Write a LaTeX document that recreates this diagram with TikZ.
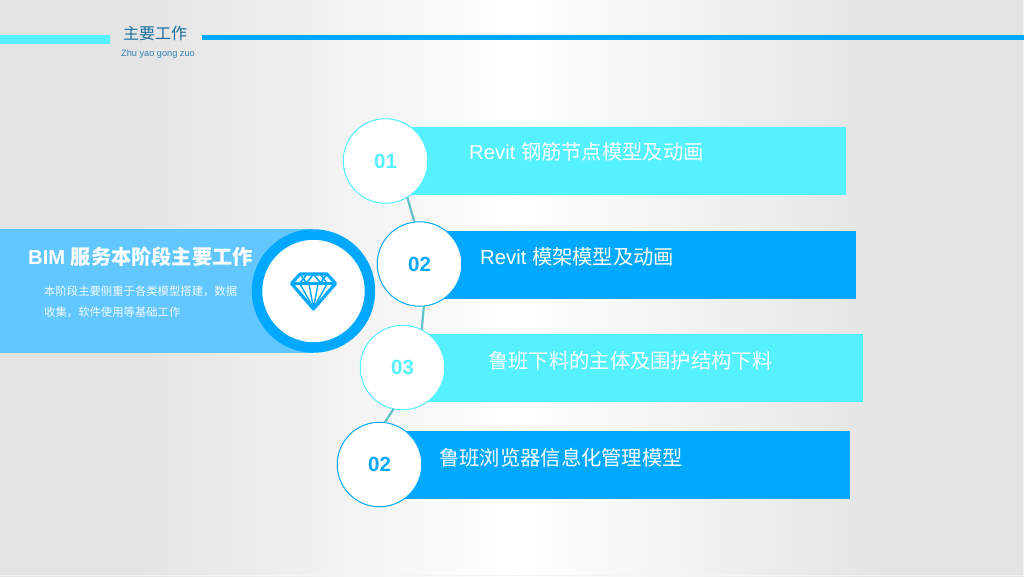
\documentclass[tikz,border=0pt]{standalone}
\usepackage{fontspec}
\setmainfont{Liberation Sans}
\newfontfamily\cjk{Noto Sans CJK SC}
\definecolor{cyanbar}{HTML}{55F1FF}
\definecolor{bluebar}{HTML}{00A8FF}
\definecolor{panel}{HTML}{62C7FF}
\definecolor{titlec}{HTML}{1A6E9E}
\definecolor{subc}{HTML}{2F7FAE}
\definecolor{linkc}{HTML}{62C2CC}
\definecolor{bgedge}{HTML}{E4E4E4}
\pgfdeclarehorizontalshading{slidebg}{100bp}{color(0bp)=(bgedge); color(31.6bp)=(bgedge); color(50.2bp)=(white); color(68.2bp)=(bgedge); color(100bp)=(bgedge)}
\tikzset{
  numc/.style={circle,fill=white,draw=#1,line width=1pt,minimum size=84.5pt,inner sep=0pt,outer sep=0pt,text=#1,font=\bfseries\fontsize{20.5}{20.5}\selectfont},
  bartext/.style={anchor=west,text=white,inner sep=0pt,font=\fontsize{20.3}{20.3}\selectfont},
  desc/.style={anchor=west,text=white!92!panel,inner sep=0pt,font=\cjk\fontsize{11.35}{11.35}\selectfont},
  link/.style={draw=linkc,line width=2.2pt},
  gem/.style={draw=bluebar,line join=round}
}
\begin{document}
\begin{tikzpicture}[x=1pt,y=-1pt]
\useasboundingbox (0,0) rectangle (1024,576);
\shade[shading=slidebg] (0,0) rectangle (1024,576);
\fill[white!60!bgedge] (0,575) rectangle (1024,576);
\fill[white!60!bgedge] (1023,0) rectangle (1024,576);
% header
\fill[cyanbar] (0,35) rectangle (110,44);
\fill[bluebar] (202,35) rectangle (1024,40);
\node[text=titlec,inner sep=0pt,font=\cjk\fontsize{16}{16}\selectfont] (title) at (155,33) {主要工作};
\node[text=subc,inner sep=0pt,font=\fontsize{9.2}{9}\selectfont] (subtitle) at (158,54) {Zhu yao gong zuo};
% left panel
\fill[panel] (0,229) rectangle (313,353);
\node[circle,fill=white,draw=bluebar,line width=10.5pt,minimum size=113pt,inner sep=0pt,outer sep=0pt] (hub) at (313.5,291) {};
\node[anchor=west,text=white,inner sep=0pt,font=\bfseries\fontsize{20.2}{20.2}\selectfont] (lead) at (28,257) {BIM {\cjk\bfseries 服务本阶段主要工作}};
\node[desc] (desc1) at (44,291) {本阶段主要侧重于各类模型搭建，数据};
\node[desc] (desc2) at (44,312) {收集，软件使用等基础工作};
% diamond
\draw[gem,line width=3.2pt] (300,274) -- (327,274) -- (335.5,283.5) -- (313.5,309) -- (291.5,283.5) -- cycle;
\draw[gem,line width=2.8pt] (292,283.5) -- (335,283.5);
\draw[gem,line width=1.6pt] (300,274) -- (306.5,283) -- (313.5,274) -- (320.5,283) -- (327,274);
\draw[gem,line width=1.6pt] (300,283) -- (307,274);
\draw[gem,line width=1.6pt] (320,274) -- (327,283);
\draw[gem,line width=1.4pt] (300,284) -- (313.5,308) -- (327,284);
\draw[gem,line width=1.4pt] (309,284) -- (313.5,308) -- (318,284);
% bars
\fill[cyanbar] (400,127) rectangle (846,195);
\fill[bluebar] (435,231) rectangle (856,299);
\fill[cyanbar] (420,334) rectangle (863,402);
\fill[bluebar] (400,431) rectangle (850,499);
% circles
\node[numc=cyanbar] (n1) at (385.5,161) {01};
\node[numc=bluebar] (n2) at (419.5,264) {02};
\node[numc=cyanbar] (n3) at (402.5,367.5) {03};
\node[numc=bluebar] (n4) at (379.5,464.5) {02};
% connectors
\draw[link] (n1.-59) -- (n2.97);
\draw[link] (n2.-84) -- (n3.63);
\draw[link] (n3.-102) -- (n4.83);
% labels
\node[bartext] (t1) at (469,152) {Revit {\cjk 钢筋节点模型及动画}};
\node[bartext] (t2) at (480,257) {Revit {\cjk 模架模型及动画}};
\node[bartext] (t3) at (488,361) {\cjk 鲁班下料的主体及围护结构下料};
\node[bartext] (t4) at (439,458) {\cjk 鲁班浏览器信息化管理模型};
\end{tikzpicture}
\end{document}
